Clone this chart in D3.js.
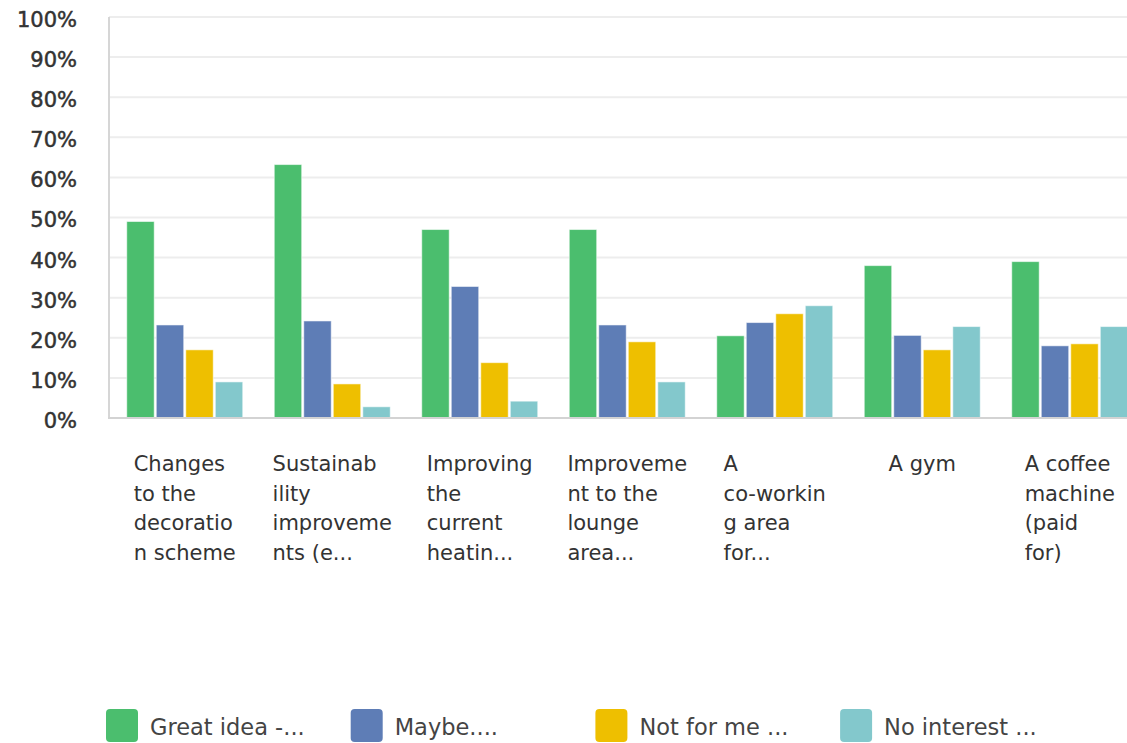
<!DOCTYPE html>
<html>
<head>
<meta charset="utf-8">
<script src="https://cdn.jsdelivr.net/npm/d3@7"></script>
<style>
  html, body { margin: 0; padding: 0; background: #fff; }
  svg { display: block; }
</style>
</head>
<body>
<svg id="chart" width="1127" height="743"></svg>
<script>
const categories = ["Changes to the decoration scheme", "Sustainability improvements (e...", "Improving the current heatin...", "Improvement to the lounge area...", "A co-working area for...", "A gym", "A coffee machine (paid for)"];
const categoryLines = [
  ["Changes", "to the", "decoratio", "n scheme"],
  ["Sustainab", "ility", "improveme", "nts (e..."],
  ["Improving", "the", "current", "heatin..."],
  ["Improveme", "nt to the", "lounge", "area..."],
  ["A", "co-workin", "g area", "for..."],
  ["A gym"],
  ["A coffee", "machine", "(paid", "for)"]
];
const seriesNames = ["Great idea -...", "Maybe....", "Not for me ...", "No interest ..."];
const greatIdea = [49, 63.2, 47, 47, 20.5, 38, 39];
const maybe = [23.2, 24.2, 32.8, 23.2, 23.8, 20.6, 18];
const notForMe = [17, 8.5, 13.8, 19, 26, 17, 18.5];
const noInterest = [9, 2.8, 4.2, 9, 28, 22.8, 22.8];
const yTicks = [0, 10, 20, 30, 40, 50, 60, 70, 80, 90, 100];
const colors = ["#4bbe6e", "#5e7db6", "#eebf00", "#83c8cc"];

const seriesValues = [greatIdea, maybe, notForMe, noInterest];

const svg = d3.select("#chart");

const y = d3.scaleLinear().domain([0, 100]).range([418, 17]);
const step = 147.5;
const x0 = d3.scaleBand().domain(categories)
  .range([111, 111 + categories.length * step])
  .paddingInner(0.2136).paddingOuter(0.1068);
const x1 = d3.scaleBand().domain(seriesNames)
  .range([0, x0.bandwidth()]).paddingInner(0.07);
const color = d3.scaleOrdinal().domain(seriesNames).range(colors);

// gridlines
svg.append("g").selectAll("line").data(yTicks.filter(t => t > 0)).join("line")
  .attr("x1", 109).attr("x2", 1127)
  .attr("y1", d => y(d)).attr("y2", d => y(d))
  .attr("stroke", "#ededed").attr("stroke-width", 2);

// y axis labels
const yAxis = d3.axisLeft(y).tickValues(yTicks).tickFormat(d => d + "%").tickSize(0).tickPadding(0);
const yg = svg.append("g").attr("transform", "translate(77,0)").call(yAxis);
yg.select(".domain").remove();
yg.selectAll("text")
  .attr("font-family", "DejaVu Sans")
  .attr("font-size", 21)
  .attr("fill", "#333")
  .attr("stroke", "#333")
  .attr("stroke-width", 0.5)
  .attr("dy", "0.45em");

// bars
const groups = svg.append("g").selectAll("g").data(categories).join("g")
  .attr("transform", d => `translate(${x0(d)},0)`);
groups.selectAll("rect")
  .data((c, i) => seriesNames.map((s, j) => ({ s, v: seriesValues[j][i] })))
  .join("rect")
  .attr("x", d => x1(d.s))
  .attr("width", x1.bandwidth())
  .attr("y", d => y(d.v))
  .attr("height", d => y(0) - y(d.v))
  .attr("fill", d => color(d.s))
  .attr("stroke", "rgba(255,255,255,0.55)")
  .attr("stroke-width", 1);

// axis lines
svg.append("line").attr("x1", 109).attr("x2", 109).attr("y1", 17).attr("y2", 419)
  .attr("stroke", "#d6d6d6").attr("stroke-width", 2);
svg.append("line").attr("x1", 108).attr("x2", 1127).attr("y1", y(0)).attr("y2", y(0))
  .attr("stroke", "#d3d3d3").attr("stroke-width", 2);

// category labels
categories.forEach((c, i) => {
  const t = svg.append("text")
    .attr("font-family", "DejaVu Sans")
    .attr("font-size", 21)
    .attr("fill", "#333");
  categoryLines[i].forEach((ln, k) => {
    t.append("tspan").attr("x", 0).attr("y", 471 + k * 29.5).text(ln);
  });
  let w = 0;
  t.selectAll("tspan").each(function () { w = Math.max(w, this.getComputedTextLength()); });
  const cx = x0(c) + x0.bandwidth() / 2;
  t.attr("transform", `translate(${cx - w / 2},0)`);
});

// legend
const legend = svg.append("g").selectAll("g").data(seriesNames).join("g")
  .attr("transform", (d, i) => `translate(${106 + i * 244.7},709)`);
legend.append("rect").attr("width", 32).attr("height", 33).attr("rx", 4)
  .attr("fill", d => color(d));
legend.append("text").attr("x", 44).attr("y", 18).attr("dy", "0.36em")
  .attr("font-family", "DejaVu Sans").attr("font-size", 22.5).attr("fill", "#444")
  .text(d => d);
</script>
</body>
</html>
